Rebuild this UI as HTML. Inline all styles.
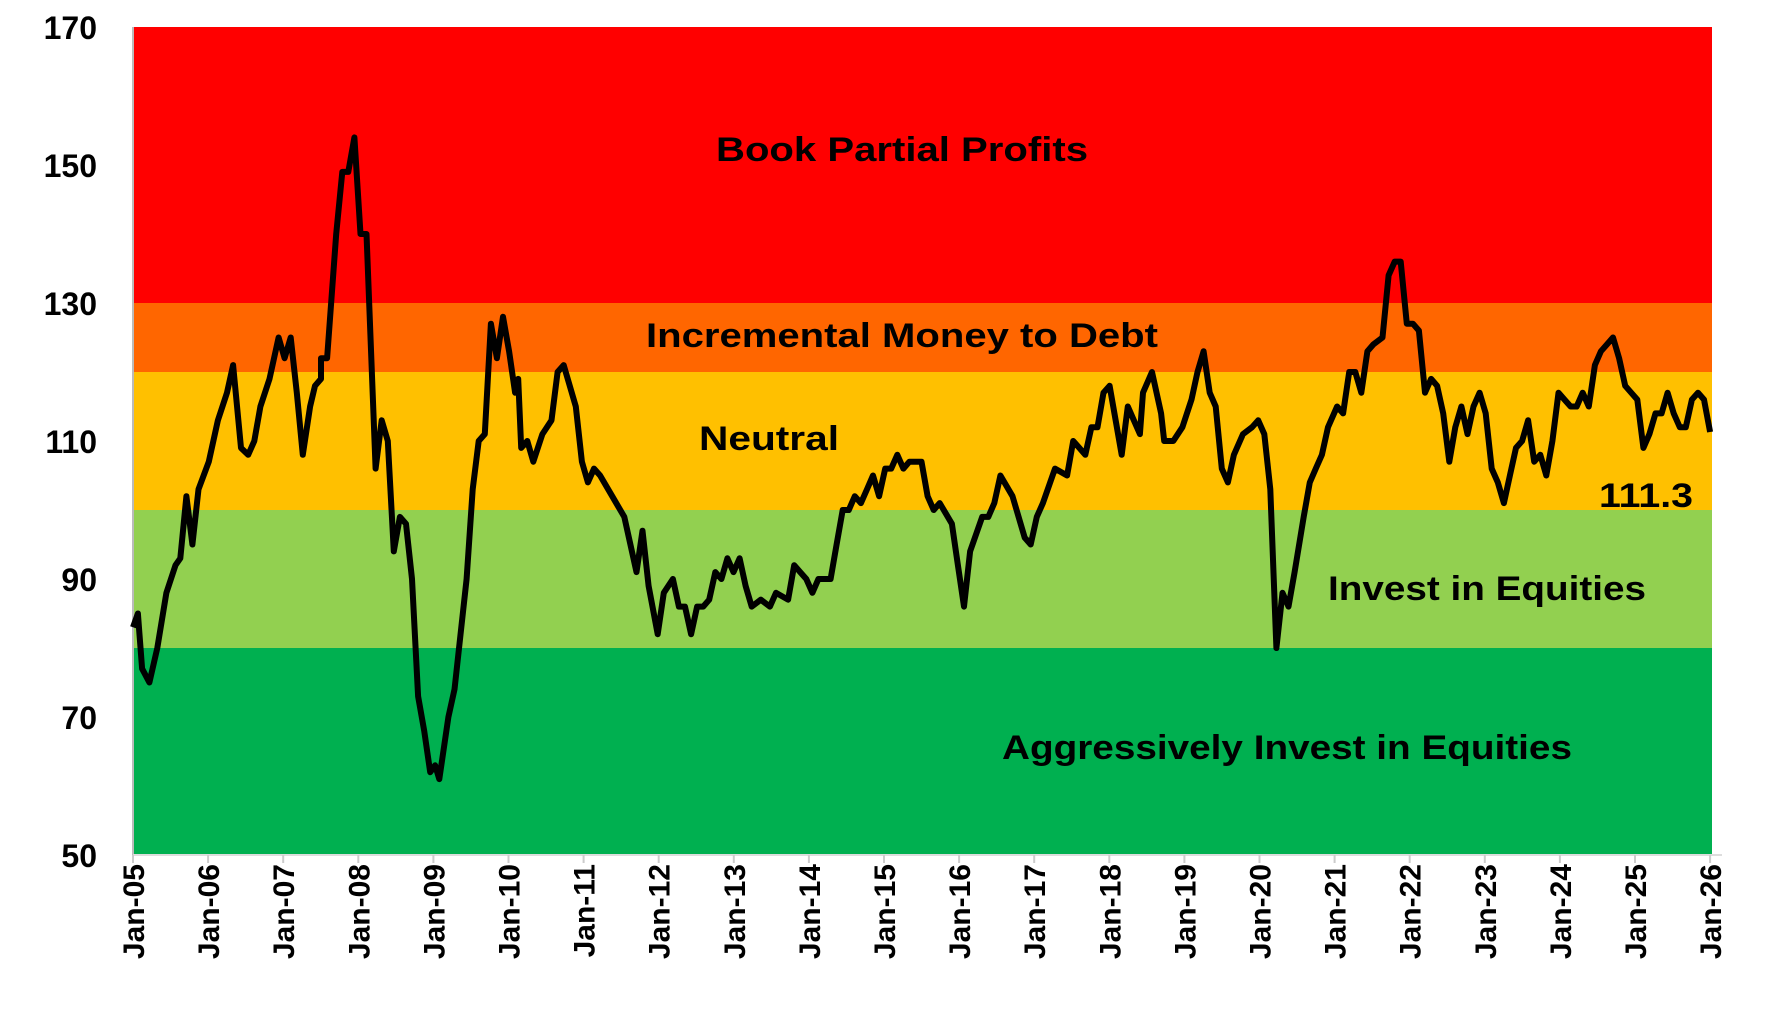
<!DOCTYPE html>
<html><head><meta charset="utf-8"><style>
html,body{margin:0;padding:0;background:#fff;}
svg{display:block;font-family:"Liberation Sans",sans-serif;font-weight:bold;}
</style></head><body>
<svg width="1783" height="1014" viewBox="0 0 1783 1014" xmlns="http://www.w3.org/2000/svg">
<rect x="133" y="27" width="1579" height="276" fill="#ff0000"/>
<rect x="133" y="303" width="1579" height="69" fill="#ff6600"/>
<rect x="133" y="372" width="1579" height="138" fill="#ffc000"/>
<rect x="133" y="510" width="1579" height="138" fill="#92d050"/>
<rect x="133" y="648" width="1579" height="207" fill="#00b050"/>
<line x1="133" y1="27" x2="133" y2="855" stroke="#bbb" stroke-width="2"/>
<line x1="133" y1="855" x2="1722" y2="855" stroke="#ddd" stroke-width="2"/>
<g font-size="32" text-anchor="end" fill="#000">
<text x="97" y="39">170</text><text x="97" y="177">150</text><text x="97" y="315">130</text>
<text x="97" y="453">110</text><text x="97" y="591">90</text><text x="97" y="729">70</text><text x="97" y="867">50</text>
</g>
<g id="xl" font-size="30" fill="#000"></g>
<g font-size="34" text-anchor="middle" fill="#000">
<text x="902" y="161" textLength="372" lengthAdjust="spacingAndGlyphs">Book Partial Profits</text>
<text x="902" y="347" textLength="512" lengthAdjust="spacingAndGlyphs">Incremental Money to Debt</text>
<text x="769" y="450" textLength="140" lengthAdjust="spacingAndGlyphs">Neutral</text>
<text x="1646" y="507" textLength="94" lengthAdjust="spacingAndGlyphs">111.3</text>
<text x="1487" y="600" textLength="318" lengthAdjust="spacingAndGlyphs">Invest in Equities</text>
<text x="1287" y="759" textLength="570" lengthAdjust="spacingAndGlyphs">Aggressively Invest in Equities</text>
</g>
<polyline id="ln" fill="none" stroke="#000" stroke-width="6" stroke-linejoin="round"/>
</svg>
<script>
var d=[0,83,.08,85,.15,77,.27,75,.4,80,.55,88,.7,92,.78,93,.88,102,.98,95,1.08,103,1.25,107,1.4,113,1.55,117,1.65,121,1.78,109,1.9,108,2,110,2.1,115,2.25,119,2.4,125,2.5,122,2.6,125,2.7,117,2.8,108,2.92,115,3,118,3.1,119,3.2,122,3.3,122,3.45,140,3.55,149,3.65,149,3.75,154,3.85,140,3.95,140,4.1,106,4.2,113,4.3,110,4.4,94,4.5,99,4.6,98,4.7,90,4.8,73,4.9,68,5,62,5.08,63,5.15,61,5.3,70,5.4,74,5.5,90,5.6,103,5.7,110,5.8,111,5.9,127,6,122,6.1,128,6.2,123,6.3,117,6.35,119,6.4,109,6.5,110,6.6,107,6.75,111,6.9,113,7,120,7.1,121,7.3,115,7.4,107,7.5,104,7.6,106,7.7,105,7.9,102,8.1,99,8.3,91,8.4,97,8.5,89,8.65,82,8.75,88,8.9,90,9,86,9.1,86,9.2,82,9.3,86,9.4,86,9.5,87,9.6,91,9.7,90,9.8,93,9.9,91,10,93,10.1,89,10.2,86,10.35,87,10.5,86,10.6,88,10.8,87,10.9,92,11,91,11.1,90,11.2,88,11.3,90,11.5,90,11.6,95,11.7,100,11.8,100,11.9,102,12,101,12.1,103,12.2,105,12.3,102,12.4,106,12.5,106,12.6,108,12.7,106,12.8,107,12.9,107,13,107,13.1,102,13.2,100,13.3,101,13.5,98,13.6,92,13.7,86,13.8,94,14,99,14.1,99,14.2,101,14.3,105,14.5,102,14.7,96,14.8,95,14.9,99,15,101,15.2,106,15.4,105,15.5,110,15.6,109,15.7,108,15.8,112,15.9,112,16,117,16.1,118,16.3,108,16.4,115,16.6,111,16.65,117,16.8,120,16.95,114,17,110,17.15,110,17.3,112,17.45,116,17.55,120,17.65,123,17.75,117,17.85,115,17.95,106,18.05,104,18.15,108,18.3,111,18.45,112,18.55,113,18.65,111,18.75,103,18.85,80,18.95,88,19.05,86,19.15,91,19.3,99,19.4,104,19.5,106,19.6,108,19.7,112,19.85,115,19.95,114,20.05,120,20.15,120,20.25,117,20.35,123,20.45,124,20.6,125,20.7,134,20.8,136,20.9,136,21,127,21.1,127,21.2,126,21.3,117,21.4,119,21.5,118,21.6,114,21.7,107,21.8,112,21.9,115,22,111,22.1,115,22.2,117,22.3,114,22.4,106,22.5,104,22.6,101,22.7,105,22.8,109,22.9,110,23,113,23.1,107,23.2,108,23.3,105,23.4,110,23.5,117,23.6,116,23.7,115,23.8,115,23.9,117,24,115,24.1,121,24.2,123,24.3,124,24.4,125,24.5,122,24.6,118,24.7,117,24.8,116,24.9,109,25,111,25.1,114,25.2,114,25.3,117,25.4,114,25.5,112,25.6,112,25.7,116,25.8,117,25.9,116,26,111.3];
var p=[];for(var i=0;i<d.length;i+=2){var t=d[i];if(t>=3.2&&t<=5.4)t-=0.1;p.push((133+t*21/26*75.1).toFixed(1)+','+(27+(170-d[i+1])*6.9).toFixed(1));}
document.getElementById('ln').setAttribute('points',p.join(' '));
var g=document.getElementById('xl'),s='';
for(var y=5;y<=26;y++){var x=133+(y-5)*75.1+11;var lab='Jan-'+(y<10?'0':'')+y;
s+='<text transform="translate('+x+',864) rotate(-90)" text-anchor="end">'+lab+'</text>';
s+='<line x1="'+(x-11)+'" y1="855" x2="'+(x-11)+'" y2="863" stroke="#ccc" stroke-width="2"/>';}
g.innerHTML=s;
</script>
</body></html>
